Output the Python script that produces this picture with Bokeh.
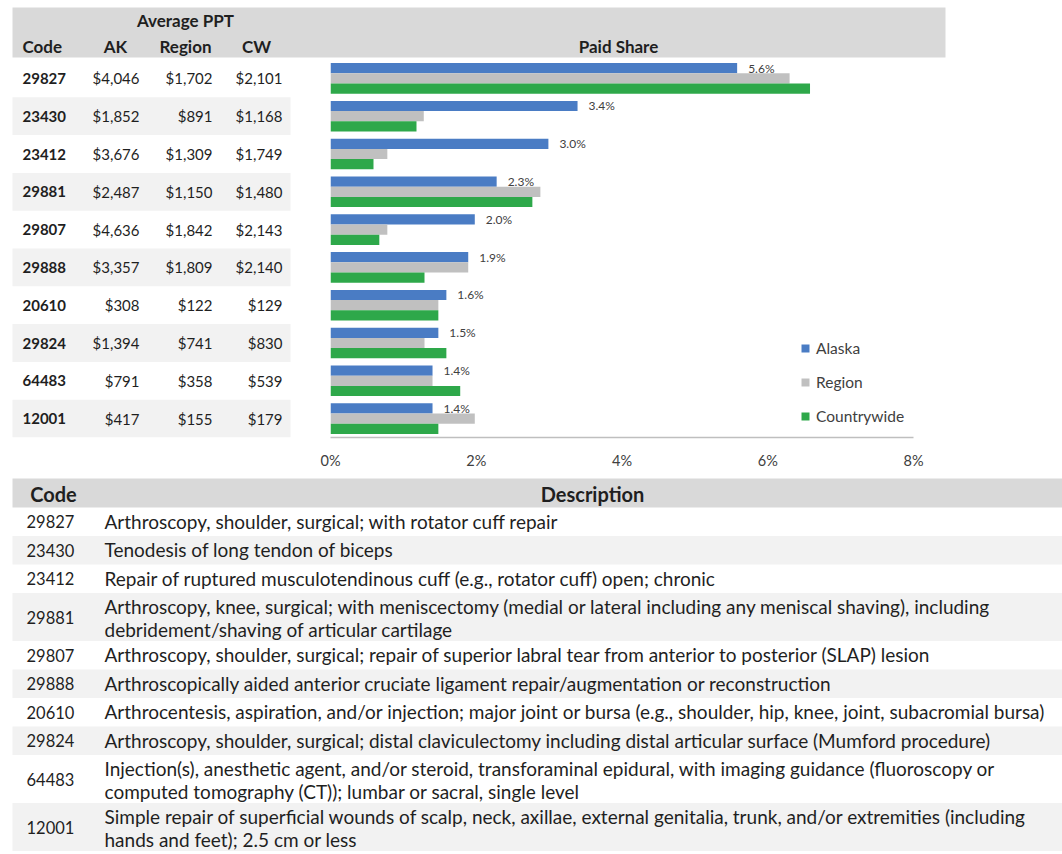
from bokeh.plotting import figure
from bokeh.layouts import column, row
from bokeh.models import (Range1d, FactorRange, ColumnDataSource, FixedTicker,
                          PrintfTickFormatter, Legend, LegendItem)
from bokeh.transform import dodge
from bokeh.core.properties import value
from bokeh.embed import file_html
from bokeh.resources import INLINE

# ---------------- data ----------------
codes = ["29827", "23430", "23412", "29881", "29807", "29888", "20610", "29824", "64483", "12001"]
ppt_ak = [4046, 1852, 3676, 2487, 4636, 3357, 308, 1394, 791, 417]
ppt_region = [1702, 891, 1309, 1150, 1842, 1809, 122, 741, 358, 155]
ppt_cw = [2101, 1168, 1749, 1480, 2143, 2140, 129, 830, 539, 179]
share_alaska = [5.58, 3.39, 2.99, 2.28, 1.98, 1.89, 1.59, 1.48, 1.40, 1.40]
share_region = [6.30, 1.28, 0.78, 2.88, 0.78, 1.89, 1.48, 1.29, 1.40, 1.98]
share_cw = [6.58, 1.18, 0.59, 2.77, 0.67, 1.29, 1.48, 1.59, 1.78, 1.48]
share_ticks = [0, 2, 4, 6, 8]
series_names = ["Alaska", "Region", "Countrywide"]
descriptions = [
    "Arthroscopy, shoulder, surgical; with rotator cuff repair",
    "Tenodesis of long tendon of biceps",
    "Repair of ruptured musculotendinous cuff (e.g., rotator cuff) open; chronic",
    "Arthroscopy, knee, surgical; with meniscectomy (medial or lateral including any meniscal shaving), including\ndebridement/shaving of articular cartilage",
    "Arthroscopy, shoulder, surgical; repair of superior labral tear from anterior to posterior (SLAP) lesion",
    "Arthroscopically aided anterior cruciate ligament repair/augmentation or reconstruction",
    "Arthrocentesis, aspiration, and/or injection; major joint or bursa (e.g., shoulder, hip, knee, joint, subacromial bursa)",
    "Arthroscopy, shoulder, surgical; distal claviculectomy including distal articular surface (Mumford procedure)",
    "Injection(s), anesthetic agent, and/or steroid, transforaminal epidural, with imaging guidance (fluoroscopy or\ncomputed tomography (CT)); lumbar or sacral, single level",
    "Simple repair of superficial wounds of scalp, neck, axillae, external genitalia, trunk, and/or extremities (including\nhands and feet); 2.5 cm or less",
]

# ---------------- style ----------------
FONT = value("Lato")
BLUE, GRAY, GREEN = "#4a7cc4", "#c0c0c0", "#2ea84a"
HEAD_BG, BAND_BG = "#d9d9d9", "#f2f2f2"
TXT = "#1f1f1f"

W = 1062
TOP_H = 59
MID_H = 417
BOT_H = 854 - TOP_H - MID_H
LEFT_W = 300
FRAME_H = 378


def base_fig(width, height, x_range, y_range):
    p = figure(width=width, height=height, x_range=x_range, y_range=y_range,
               output_backend="svg", toolbar_location=None,
               x_axis_location=None, y_axis_location=None)
    p.min_border = 0
    p.outline_line_color = None
    p.xgrid.visible = False
    p.ygrid.visible = False
    return p


# column anchors of the left table (shared by header and body)
X_CODE = 22
X_AK, X_REG, X_CW = 139, 212, 282
C_AK, C_REG, C_CW = 115, 185, 256

# ---------------- top header ----------------
top = base_fig(W, TOP_H, Range1d(0, W), Range1d(TOP_H, 0))
top.quad(left=12, right=945, top=7, bottom=57, fill_color=HEAD_BG, line_color=None)
hdr = dict(text_font=FONT, text_font_style="bold", text_font_size="17px",
           text_baseline="middle", text_color=TXT)
top.text(x=[C_REG], y=[20], text=["Average PPT"], text_align="center", **hdr)
top.text(x=[X_CODE], y=[46], text=["Code"], text_align="left", **hdr)
top.text(x=[C_AK, C_REG, C_CW], y=[46, 46, 46], text=["AK", "Region", "CW"],
         text_align="center", **hdr)
top.text(x=[618], y=[46], text=["Paid Share"], text_align="center", **hdr)

# ---------------- left table ----------------
yfac = FactorRange(factors=list(reversed(codes)), range_padding=0)
left = base_fig(LEFT_W, MID_H, Range1d(0, LEFT_W), yfac)
left.min_border_bottom = MID_H - FRAME_H
band_codes = [c for i, c in enumerate(codes) if i % 2 == 1]
left.rect(x=[151] * len(band_codes), y=band_codes, width=278, height=1,
          fill_color=BAND_BG, line_color=None)
fmt = lambda v: "${:,}".format(v)
left.text(x=[X_CODE] * len(codes), y=codes, text=codes, text_font=FONT, text_font_style="bold",
          text_font_size="15px", text_baseline="middle", text_color=TXT)
for xr, vals in ((X_AK, ppt_ak), (X_REG, ppt_region), (X_CW, ppt_cw)):
    left.text(x=[xr] * len(codes), y=codes, text=[fmt(v) for v in vals], text_font=FONT,
              text_font_size="15px", text_align="right", text_baseline="middle", text_color=TXT)

# ---------------- bar chart ----------------
src = ColumnDataSource(dict(code=codes, alaska=share_alaska, region=share_region, cw=share_cw,
                            label=["{:.1f}%".format(v) for v in share_alaska]))
yfac2 = FactorRange(factors=list(reversed(codes)), range_padding=0)
bar = figure(width=W - LEFT_W, height=MID_H, x_range=Range1d(0, 8), y_range=yfac2,
             output_backend="svg", toolbar_location=None, y_axis_location=None)
bar.min_border_left = 30
bar.min_border_right = (W - LEFT_W) - 30 - 583
bar.min_border_top = 0
bar.min_border_bottom = MID_H - FRAME_H
bar.outline_line_color = None
bar.xgrid.visible = False
bar.ygrid.visible = False
off, hh = 0.27, 0.27
r1 = bar.hbar(y=dodge("code", off, range=bar.y_range), left=0, right="alaska", height=hh,
              source=src, fill_color=BLUE, line_color=None)
r2 = bar.hbar(y=dodge("code", 0, range=bar.y_range), left=0, right="region", height=hh,
              source=src, fill_color=GRAY, line_color=None)
r3 = bar.hbar(y=dodge("code", -off, range=bar.y_range), left=0, right="cw", height=hh,
              source=src, fill_color=GREEN, line_color=None)
bar.text(x="alaska", y=dodge("code", off, range=bar.y_range), text="label", source=src,
         x_offset=11, text_font=FONT, text_font_size="12px", text_baseline="middle",
         text_color="#404040")
ax = bar.xaxis[0]
ax.ticker = FixedTicker(ticks=share_ticks)
ax.formatter = PrintfTickFormatter(format="%d%%")
ax.axis_line_color = "#bfbfbf"
ax.axis_line_width = 1.5
ax.major_tick_line_color = None
ax.minor_tick_line_color = None
ax.major_tick_in = 0
ax.major_tick_out = 0
ax.major_label_standoff = 14
ax.major_label_text_font = "Lato"
ax.major_label_text_font_size = "14.5px"
ax.major_label_text_color = "#404040"

legend = Legend(items=[LegendItem(label=series_names[0], renderers=[r1]),
                       LegendItem(label=series_names[1], renderers=[r2]),
                       LegendItem(label=series_names[2], renderers=[r3])],
                location=(470, 11), orientation="vertical")
legend.border_line_color = None
legend.background_fill_alpha = 0
legend.padding = 0
legend.margin = 0
legend.spacing = 14
legend.glyph_height = 10
legend.glyph_width = 10
legend.label_height = 20
legend.label_standoff = 6
legend.label_text_font = "Lato"
legend.label_text_font_size = "15.5px"
legend.label_text_color = "#404040"
bar.add_layout(legend)

# ---------------- description table ----------------
bot = base_fig(W, BOT_H, Range1d(0, W), Range1d(BOT_H, 0))
HEAD_TOP, HEAD_H = 2, 29
bot.quad(left=12, right=W, top=HEAD_TOP, bottom=HEAD_TOP + HEAD_H, fill_color=HEAD_BG, line_color=None)
bot.text(x=[53, 592], y=[HEAD_TOP + 15] * 2, text=["Code", "Description"], text_font=FONT,
         text_font_style="bold", text_font_size="20px", text_align="center",
         text_baseline="middle", text_color=TXT)
tops, heights = [], []
cur = HEAD_TOP + HEAD_H
for d in descriptions:
    n = len(d.split("\n"))
    h = 28.5 + 19.5 * (n - 1)
    tops.append(cur)
    heights.append(h)
    cur += h
bl, br, bt, bb = [], [], [], []
for i in range(len(codes)):
    if i % 2 == 1:
        bl.append(12); br.append(W); bt.append(tops[i]); bb.append(tops[i] + heights[i])
bot.quad(left=bl, right=br, top=bt, bottom=bb, fill_color=BAND_BG, line_color=None)
bot.text(x=[26] * len(codes), y=[t + h / 2 for t, h in zip(tops, heights)], text=codes,
         text_font=FONT, text_font_size="16.5px", text_baseline="middle", text_color=TXT)
lx, ly, lt = [], [], []
for t, d in zip(tops, descriptions):
    for k, line in enumerate(d.split("\n")):
        lx.append(104); ly.append(t + 13.5 + 23 * k); lt.append(line)
bot.text(x=lx, y=ly, text=lt, text_font=FONT, text_font_size="19px", text_baseline="middle",
         text_color=TXT)

layout = column(top, row(left, bar), bot)
open("out.html", "w").write(file_html(layout, INLINE))
